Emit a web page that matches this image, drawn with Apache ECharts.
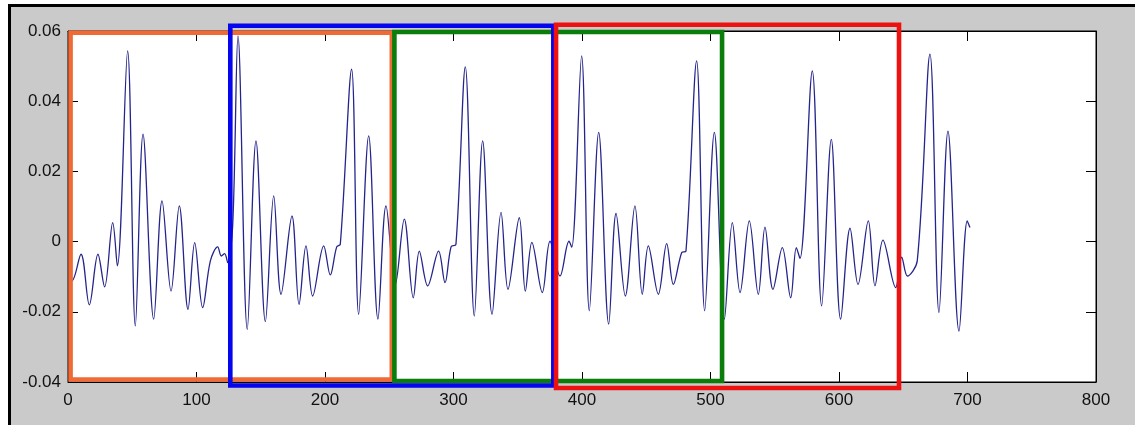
<!DOCTYPE html>
<html><head><meta charset="utf-8">
<script src="https://cdn.jsdelivr.net/npm/echarts@6/dist/echarts.min.js"></script>
<style>html,body{margin:0;padding:0;background:#fff;overflow:hidden}#c{width:1135px;height:425px}</style>
</head><body><div id="c"></div>
<script>
// ---- tick labels ----
const xTickLabels = ['0','100','200','300','400','500','600','700','800'];
const yTickLabels = ['-0.04','-0.02','0','0.02','0.04','0.06'];

// ---- signal (extrema and turning points) ----
const sigX = [1,3,10.1,16.6,23.3,28.5,34.8,38.4,46.4,52.4,58.4,66.7,73.2,80.2,86.6,93.4,98.6,104.8,110.8,116.5,119.3,121.9,124.3,
  128.2,132.3,139.5,146.3,153.6,160.1,165.8,174.3,179.8,185.2,190.4,199.0,204.1,209.1,211.9,
  220.7,226.2,234.0,241.2,247.5,254.7,261.7,268.7,273.4,279.9,288.4,293.4,298.1,301.9,
  309.2,316.2,322.7,330.0,337.0,342.4,351.2,355.9,361.0,369.1,375.1,382.9,389.9,392.0,
  399.7,405.7,413.0,420.8,426.5,433.7,441.2,446.9,451.6,459.4,465.9,471.1,477.6,480.9,
  489.2,495.5,503.0,510.8,517.0,523.0,530.2,537.2,542.4,548.6,555.9,562.4,566.8,569.6,
  579.2,586.5,594.0,601.3,608.6,614.8,622.8,628.0,634.2,644.1,648.8,653.2,660.9,
  670.8,677.8,684.8,693.4,699.8,701.9];
const sigY = [-0.0110,-0.0112,-0.0036,-0.0180,-0.0036,-0.0129,0.0054,-0.0069,0.0543,-0.0240,0.0306,-0.0221,0.0116,-0.0141,0.0102,-0.0193,-0.0003,-0.0188,-0.0055,-0.0015,-0.0041,-0.0034,-0.0060,
  0.0049,0.0586,-0.0250,0.0287,-0.0228,0.0130,-0.0150,0.0073,-0.0179,-0.0012,-0.0155,-0.0012,-0.0095,-0.0015,-0.0008,
  0.0491,-0.0207,0.0301,-0.0221,0.0102,-0.0122,0.0064,-0.0160,-0.0027,-0.0126,-0.0027,-0.0117,-0.0015,-0.0008,
  0.0498,-0.0212,0.0287,-0.0207,0.0083,-0.0136,0.0068,-0.0141,-0.0002,-0.0145,0.0001,-0.0098,0.0001,-0.0016,
  0.0529,-0.0197,0.0311,-0.0235,0.0080,-0.0155,0.0102,-0.0150,-0.0012,-0.0150,-0.0006,-0.0122,-0.0031,-0.0027,
  0.0515,-0.0197,0.0311,-0.0221,0.0054,-0.0145,0.0059,-0.0150,0.0041,-0.0136,-0.0017,-0.0160,-0.0017,-0.0048,
  0.0486,-0.0183,0.0291,-0.0221,0.0038,-0.0122,0.0059,-0.0126,0.0004,-0.0131,-0.0044,-0.0098,-0.0055,
  0.0534,-0.0202,0.0315,-0.0255,0.0059,0.0040];

// ---- window boxes: [xStart, xEnd, yLow, yHigh] in data units ----
const orangeBox = [2, 252, -0.0393, 0.0595];
const greenBox  = [254, 509, -0.0397, 0.0597];
const blueBox   = [126.3, 377.7, -0.0410, 0.0615];
const redBox    = [379.8, 646.7, -0.0417, 0.0618];

function boxPath(b){ return [[b[0],b[2]],[b[1],b[2]],[b[1],b[3]],[b[0],b[3]],[b[0],b[2]]]; }
function boxSeries(b, color, z){
  return {type:'line', data: boxPath(b), symbol:'none', clip:false, silent:true, z:z,
    lineStyle:{color:color, width:4.6, join:'miter', cap:'square'}, animation:false};
}

const chart = echarts.init(document.getElementById('c'), null, {renderer:'canvas'});
const font = {fontFamily:'"Liberation Sans", Arial, sans-serif', fontSize:17, color:'#111'};
const tickStyle = {show:true, inside:true, length:10, lineStyle:{color:'#000', width:1}};
const lineStyleAxis = {show:true, onZero:false, lineStyle:{color:'#000', width:1}};
chart.setOption({
  animation:false,
  backgroundColor:'#cacaca',
  grid:{left:68, right:39, top:31, bottom:43, show:true, backgroundColor:'#fff', borderColor:'#000', borderWidth:1},
  xAxis:[
    {type:'value', min:0, max:800, interval:100, position:'bottom',
     axisLine:lineStyleAxis, axisTick:tickStyle, splitLine:{show:false},
     axisLabel:Object.assign({margin:10, formatter:v=>xTickLabels[Math.round(v/100)]}, font)},
    {type:'value', min:0, max:800, interval:100, position:'top',
     axisLine:lineStyleAxis, axisTick:tickStyle, splitLine:{show:false}, axisLabel:{show:false}}
  ],
  yAxis:[
    {type:'value', min:-0.04, max:0.06, interval:0.02, position:'left',
     axisLine:lineStyleAxis, axisTick:tickStyle, splitLine:{show:false},
     axisLabel:Object.assign({margin:7, formatter:v=>yTickLabels[Math.round((v+0.04)/0.02)]}, font)},
    {type:'value', min:-0.04, max:0.06, interval:0.02, position:'right',
     axisLine:lineStyleAxis, axisTick:tickStyle, splitLine:{show:false}, axisLabel:{show:false}}
  ],
  graphic:[
    {type:'rect', shape:{x:0,y:0,width:1135,height:4}, style:{fill:'#fff'}, z:100, silent:true},
    {type:'rect', shape:{x:0,y:0,width:8,height:425}, style:{fill:'#fff'}, z:100, silent:true},
    {type:'rect', shape:{x:8,y:4,width:1127,height:3}, style:{fill:'#000'}, z:101, silent:true},
    {type:'rect', shape:{x:8,y:4,width:3,height:421}, style:{fill:'#000'}, z:101, silent:true}
  ],
  series:[
    {type:'line', xAxisIndex:0, yAxisIndex:0, data: sigX.map((x,i)=>[x, sigY[i]]), symbol:'none', smooth:0.35, z:2, silent:true,
     lineStyle:{color:'#24248c', width:1.3}},
    boxSeries(orangeBox, '#f06a35', 3),
    boxSeries(greenBox, '#0b7d0b', 4),
    boxSeries(blueBox, '#0505ee', 5),
    boxSeries(redBox, '#ee1111', 6)
  ]
});
</script></body></html>
